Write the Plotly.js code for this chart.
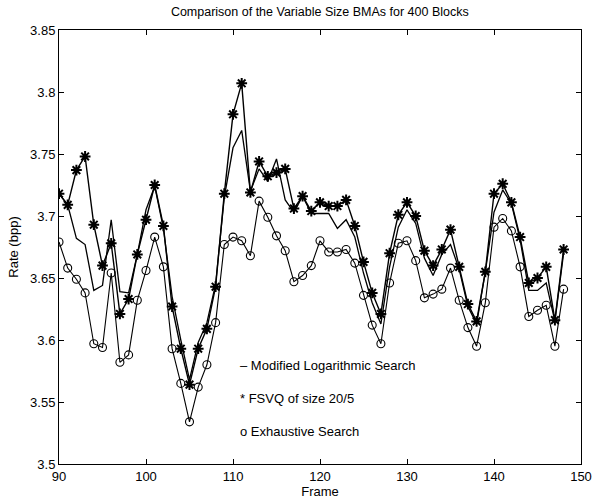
<!DOCTYPE html>
<html>
<head>
<meta charset="utf-8">
<script src="https://cdn.plot.ly/plotly-3.0.1.min.js"></script>
<style>html,body{margin:0;padding:0;background:#fff;}#chart{width:600px;height:501px;}</style>
</head>
<body>
<div id="chart"></div>
<script>
var frames = [];
for (var f = 90; f <= 148; f++) frames.push(f);

var modifiedLog = [3.718,3.709,3.682,3.677,3.640,3.644,3.697,3.639,3.638,3.669,
3.705,3.724,3.690,3.635,3.600,3.568,3.598,3.614,3.645,3.715,
3.755,3.769,3.720,3.738,3.728,3.746,3.713,3.703,3.716,3.702,
3.702,3.702,3.690,3.697,3.683,3.654,3.630,3.613,3.659,3.691,
3.705,3.694,3.666,3.652,3.669,3.677,3.657,3.627,3.613,3.655,
3.703,3.721,3.710,3.681,3.640,3.640,3.646,3.615,3.670];

var fsvq = [3.718,3.709,3.737,3.748,3.693,3.660,3.678,3.621,3.633,3.669,
3.697,3.725,3.692,3.627,3.593,3.564,3.593,3.609,3.643,3.718,
3.782,3.807,3.719,3.744,3.732,3.735,3.738,3.706,3.716,3.704,
3.711,3.708,3.708,3.713,3.692,3.663,3.638,3.621,3.670,3.701,
3.711,3.700,3.672,3.660,3.673,3.689,3.659,3.629,3.615,3.655,
3.718,3.726,3.711,3.683,3.646,3.650,3.659,3.616,3.673];

var exhaustive = [3.679,3.658,3.649,3.638,3.597,3.594,3.654,3.582,3.588,3.632,
3.656,3.683,3.659,3.593,3.565,3.534,3.562,3.580,3.614,3.677,
3.683,3.680,3.668,3.712,3.699,3.684,3.672,3.647,3.652,3.660,
3.680,3.671,3.671,3.673,3.662,3.636,3.612,3.597,3.646,3.678,
3.680,3.664,3.634,3.637,3.641,3.658,3.632,3.610,3.595,3.630,
3.691,3.698,3.688,3.659,3.619,3.624,3.628,3.595,3.641];

var seriesNames = ['Modified Logarithmic Search', 'FSVQ of size 20/5', 'Exhaustive Search'];
var legendSymbols = ['\u2013', '*', 'o'];
var xTicks = [90, 100, 110, 120, 130, 140, 150];
var yTicks = [3.5, 3.55, 3.6, 3.65, 3.7, 3.75, 3.8, 3.85];
var yTickText = ['3.5', '3.55', '3.6', '3.65', '3.7', '3.75', '3.8', '3.85'];

var fnt = 'Liberation Sans, Arial, Helvetica, sans-serif';

var traces = [
  {x: frames, y: modifiedLog, name: seriesNames[0], mode: 'lines',
   line: {color: '#000', width: 1.3}},
  {x: frames, y: fsvq, name: seriesNames[1], mode: 'lines+markers',
   line: {color: '#000', width: 1.4},
   marker: {symbol: 'asterisk-open', size: 9, color: '#000', line: {color: '#000', width: 2}}},
  {x: frames, y: exhaustive, name: seriesNames[2], mode: 'lines+markers',
   line: {color: '#000', width: 1.1},
   marker: {symbol: 'circle-open', size: 8, color: '#000', line: {color: '#000', width: 1.1}}}
];

var legendY = [0.226, 0.152, 0.076];
var annotations = [];
for (var i = 0; i < 3; i++) {
  annotations.push({
    xref: 'paper', yref: 'paper', x: 0.343, y: legendY[i],
    xanchor: 'left', yanchor: 'middle', showarrow: false,
    text: legendSymbols[i] + ' ' + seriesNames[i],
    font: {family: fnt, size: 13, color: '#000'}
  });
}

var layout = {
  width: 600, height: 501,
  margin: {l: 59, r: 19, t: 30, b: 37, pad: 0},
  paper_bgcolor: '#fff', plot_bgcolor: '#fff',
  showlegend: false,
  font: {family: fnt, size: 13, color: '#000'},
  title: {text: 'Comparison of the Variable Size BMAs for 400 Blocks',
          font: {family: fnt, size: 12.5, color: '#000'},
          x: 0.533, xanchor: 'center', y: 0.977, yanchor: 'middle'},
  xaxis: {range: [90, 150], tickmode: 'array', tickvals: xTicks,
          ticks: 'inside', ticklen: 5, tickcolor: '#000', tickwidth: 1,
          showline: true, linecolor: '#000', linewidth: 1, mirror: 'allticks',
          showgrid: false, zeroline: false,
          tickfont: {family: fnt, size: 13, color: '#000'},
          title: {text: 'Frame', font: {family: fnt, size: 13, color: '#000'}, standoff: 2}},
  yaxis: {range: [3.5, 3.85], tickmode: 'array', tickvals: yTicks, ticktext: yTickText,
          ticks: 'inside', ticklen: 5, tickcolor: '#000', tickwidth: 1,
          showline: true, linecolor: '#000', linewidth: 1, mirror: 'allticks',
          showgrid: false, zeroline: false,
          tickfont: {family: fnt, size: 13, color: '#000'},
          title: {text: 'Rate (bpp)', font: {family: fnt, size: 13, color: '#000'}, standoff: 8}},
  annotations: annotations
};

Plotly.newPlot('chart', traces, layout, {staticPlot: true, displayModeBar: false});
</script>
</body>
</html>
